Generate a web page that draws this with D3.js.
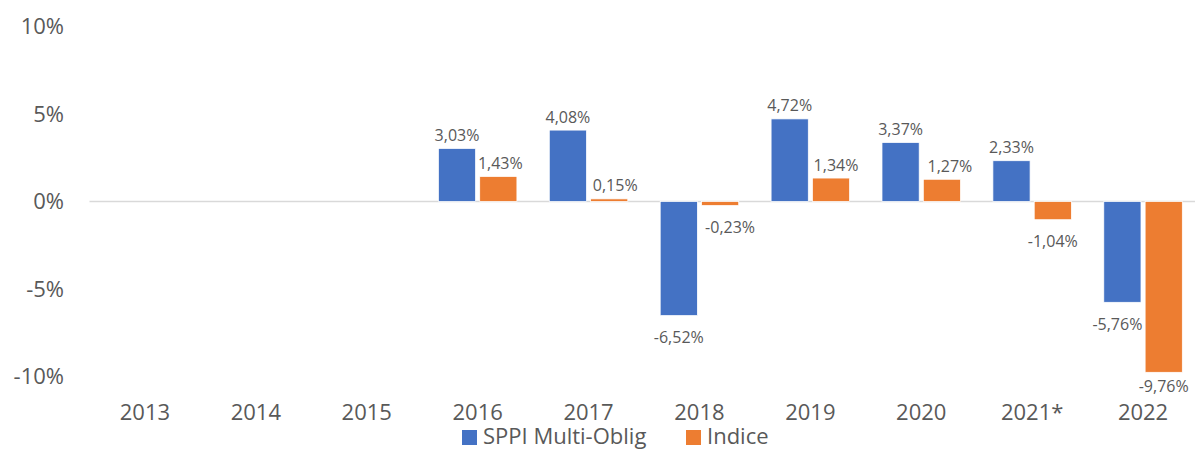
<!DOCTYPE html>
<html>
<head>
  <meta charset="utf-8">
  <title>SPPI Multi-Oblig vs Indice</title>
  <style>
    body {
      margin: 0;
      padding: 0;
      background: #ffffff;
      font-family: "Open Sans", "Liberation Sans", sans-serif;
    }
    .tick-label { fill: #595959; font-size: 22px; }
    .bar-label { fill: #595959; font-size: 16px; }
    .legend-label { fill: #595959; font-size: 22px; }
  </style>
</head>
<body>
  <div id="chart"></div>
  <script src="https://cdn.jsdelivr.net/npm/d3@7"></script>
  <script>
    // data
    const years = ["2013", "2014", "2015", "2016", "2017", "2018", "2019", "2020", "2021*", "2022"];
    const seriesNames = ["SPPI Multi-Oblig", "Indice"];
    const sppiValues = [null, null, null, 3.03, 4.08, -6.52, 4.72, 3.37, 2.33, -5.76];
    const indiceValues = [null, null, null, 1.43, 0.15, -0.23, 1.34, 1.27, -1.04, -9.76];
    const yTicks = [-10, -5, 0, 5, 10];
    const colors = ["#4472C4", "#ED7D31"];

    // small label nudges (Excel moves some labels sideways to avoid overlap)
    const sppiLabelShift = [0, 0, 0, 0, 0, 0, 0, 0, 0, -5];
    const indiceLabelShift = [0, 0, 0, 2, 6, 10, 5, 8, 0, 0];

    const W = 1195, H = 450;
    const plotLeft = 89.5, plotRight = 1198.5;
    const plotTop = 26.5, plotBottom = 376.5;

    const svg = d3.select("#chart").append("svg")
      .attr("width", W)
      .attr("height", H);

    const y = d3.scaleLinear().domain([-10, 10]).range([plotBottom, plotTop]);

    const x0 = d3.scaleBand()
      .domain(years)
      .range([plotLeft, plotRight])
      .paddingInner(0.292)
      .paddingOuter(0.146);

    const x1 = d3.scaleBand()
      .domain(seriesNames)
      .range([0, x0.bandwidth()])
      .paddingInner(0.1);

    // y tick labels (no axis line, no gridlines)
    svg.append("g")
      .selectAll("text")
      .data(yTicks)
      .enter()
      .append("text")
      .attr("class", "tick-label")
      .attr("x", 64)
      .attr("y", d => y(d))
      .attr("dy", "0.35em")
      .attr("text-anchor", "end")
      .text(d => d + "%");

    // zero line
    svg.append("line")
      .attr("x1", plotLeft)
      .attr("x2", W)
      .attr("y1", y(0))
      .attr("y2", y(0))
      .attr("stroke", "#D9D9D9")
      .attr("stroke-width", 1.5);

    const rows = years.map((yr, i) => ({
      year: yr,
      vals: [
        { name: seriesNames[0], v: sppiValues[i], shift: sppiLabelShift[i], c: colors[0] },
        { name: seriesNames[1], v: indiceValues[i], shift: indiceLabelShift[i], c: colors[1] }
      ].filter(d => d.v !== null)
    }));

    const groups = svg.append("g")
      .selectAll("g")
      .data(rows)
      .enter()
      .append("g")
      .attr("transform", d => `translate(${x0(d.year)},0)`);

    groups.selectAll("rect")
      .data(d => d.vals)
      .enter()
      .append("rect")
      .attr("x", d => x1(d.name))
      .attr("width", x1.bandwidth())
      .attr("y", d => y(Math.max(0, d.v)))
      .attr("height", d => Math.abs(y(d.v) - y(0)))
      .attr("fill", d => d.c)
      .attr("stroke", "#ffffff")
      .attr("stroke-width", 0.75);

    const fmt = v => v.toFixed(2).replace(".", ",") + "%";

    groups.selectAll("text")
      .data(d => d.vals)
      .enter()
      .append("text")
      .attr("class", "bar-label")
      .attr("x", d => x1(d.name) + x1.bandwidth() / 2 + d.shift)
      .attr("y", d => {
        if (d.v >= 0) return y(d.v) - 7.5;
        return Math.min(y(d.v) + 27.5, 392);
      })
      .attr("text-anchor", "middle")
      .text(d => fmt(d.v));

    // x category labels
    svg.append("g")
      .selectAll("text")
      .data(years)
      .enter()
      .append("text")
      .attr("class", "tick-label")
      .attr("x", d => x0(d) + x0.bandwidth() / 2)
      .attr("y", 420)
      .attr("text-anchor", "middle")
      .text(d => d);

    // legend
    const legendX = [462, 686];
    const legend = svg.append("g")
      .selectAll("g")
      .data(seriesNames)
      .enter()
      .append("g")
      .attr("transform", (d, i) => `translate(${legendX[i]},430)`);

    legend.append("rect")
      .attr("width", 15)
      .attr("height", 15)
      .attr("fill", (d, i) => colors[i]);

    legend.append("text")
      .attr("class", "legend-label")
      .attr("x", 21)
      .attr("y", 13.5)
      .text(d => d);
  </script>
</body>
</html>
